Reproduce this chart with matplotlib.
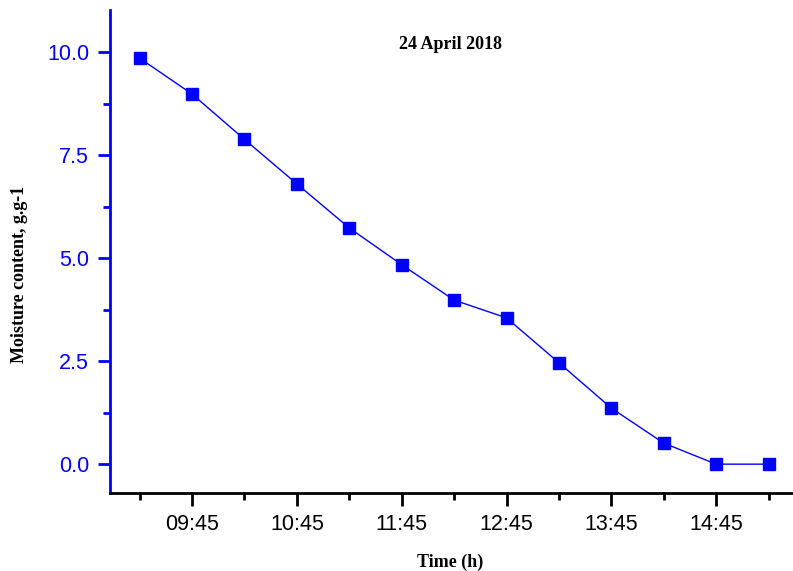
import matplotlib
matplotlib.use("Agg")
import matplotlib.pyplot as plt
import matplotlib.dates as mdates
import matplotlib.ticker as mticker
from datetime import datetime

# drying curve, sampled every 30 min
times = ["09:15", "09:45", "10:15", "10:45", "11:15", "11:45", "12:15",
         "12:45", "13:15", "13:45", "14:15", "14:45", "15:15"]
moisture = [9.85, 8.98, 7.88, 6.80, 5.73, 4.84, 3.98,
            3.55, 2.46, 1.36, 0.51, 0.0, 0.0]
tick_labels = ["09:45", "10:45", "11:45", "12:45", "13:45", "14:45"]

day = "2018-04-24 "
t = [datetime.strptime(day + s, "%Y-%m-%d %H:%M") for s in times]
major = [datetime.strptime(day + s, "%Y-%m-%d %H:%M") for s in tick_labels]
minor = [datetime.strptime(day + s, "%Y-%m-%d %H:%M") for s in times[::2]]

fig = plt.figure(figsize=(7.93, 5.71), dpi=100)
ax = fig.add_axes([0.1387, 0.1366, 0.8613, 0.8459])

ax.plot(t, moisture, color="blue", lw=1, marker="s", ms=8,
        markerfacecolor="blue", markeredgecolor="blue")

ax.set_xlim(datetime.strptime(day + "08:58", "%Y-%m-%d %H:%M"),
            datetime.strptime(day + "15:29", "%Y-%m-%d %H:%M"))
ax.set_ylim(-0.70, 11.02)

ax.xaxis.set_major_locator(mticker.FixedLocator(mdates.date2num(major)))
ax.xaxis.set_minor_locator(mticker.FixedLocator(mdates.date2num(minor)))
ax.xaxis.set_major_formatter(mdates.DateFormatter("%H:%M"))
ax.set_yticks([0.0, 2.5, 5.0, 7.5, 10.0])
ax.set_yticks([1.25, 3.75, 6.25, 8.75], minor=True)
ax.yaxis.set_major_formatter(mticker.FormatStrFormatter("%.1f"))

for s in ["top", "right"]:
    ax.spines[s].set_visible(False)
ax.spines["left"].set_color("blue")
ax.spines["left"].set_linewidth(2)
ax.spines["bottom"].set_color("black")
ax.spines["bottom"].set_linewidth(2)

ax.tick_params(axis="y", which="major", colors="blue", length=9, width=2,
               labelsize=15.5, pad=6)
ax.tick_params(axis="y", which="minor", colors="blue", length=5, width=2)
ax.tick_params(axis="x", which="major", colors="black", length=9, width=2,
               labelsize=15.5, pad=6)
ax.tick_params(axis="x", which="minor", colors="black", length=5, width=2)
for lab in ax.get_xticklabels() + ax.get_yticklabels():
    lab.set_family("Liberation Sans")

ax.set_xlabel("Time (h)", family="Liberation Serif", fontweight="bold",
              fontsize=13, va="center")
ax.xaxis.set_label_coords(0.498, -0.143)
ax.set_ylabel("Moisture content, g.g-1", family="Liberation Serif",
              fontweight="bold", fontsize=13, va="center")
ax.yaxis.set_label_coords(-0.132, 0.453)
ax.text(0.498, 0.928, "24 April 2018", transform=ax.transAxes, ha="center",
        va="center", family="Liberation Serif", fontweight="bold", fontsize=13)

fig.savefig("out.png", dpi=100)
